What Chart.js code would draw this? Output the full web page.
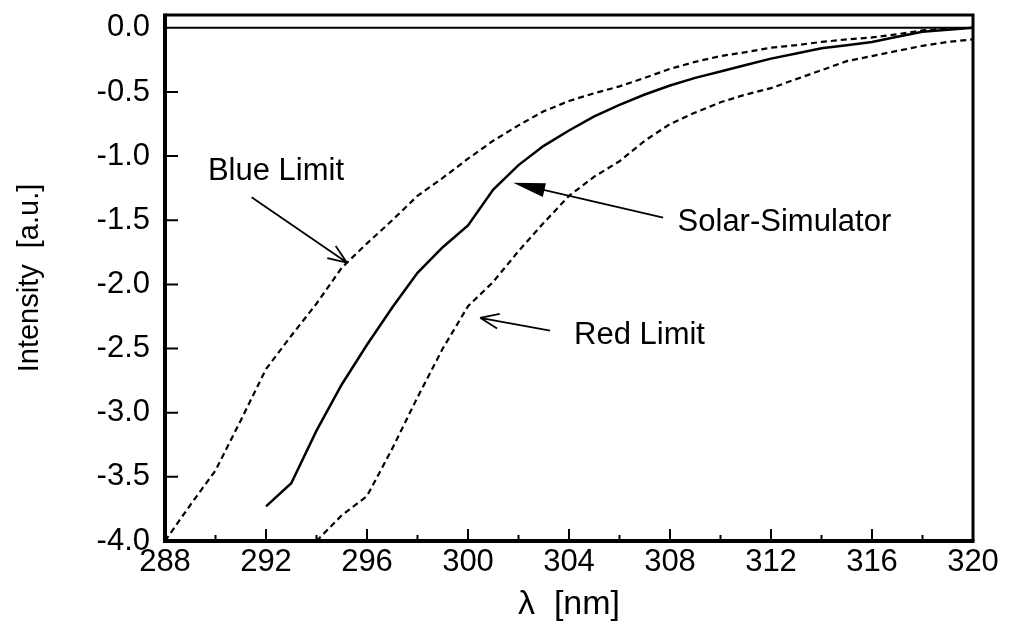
<!DOCTYPE html>
<html>
<head>
<meta charset="utf-8">
<script src="https://cdn.jsdelivr.net/npm/chart.js@4"></script>
<style>
  html, body { margin: 0; padding: 0; background: #fff; }
  #wrap { width: 1011px; height: 628px; }
</style>
</head>
<body>
<div id="wrap"><canvas id="chart" width="1011" height="628"></canvas></div>
<script>
// wavelengths (nm) and intensities
const blueWl = [288, 289, 290, 291, 292, 293, 294, 295, 296, 297, 298, 299, 300, 301, 302, 303, 304,
  305, 306, 307, 308, 309, 310, 311, 312, 313, 314, 315, 316, 317, 318, 319, 320];
const blueLimit = [-4.0, -3.72, -3.45, -3.06, -2.66, -2.40, -2.15, -1.87, -1.68, -1.50, -1.31, -1.17, -1.02,
  -0.88, -0.76, -0.65, -0.57, -0.51, -0.456, -0.39, -0.32, -0.265, -0.22, -0.19, -0.155, -0.135, -0.11,
  -0.09, -0.075, -0.05, -0.02, -0.005, 0.0];

const solarWl = [292, 293, 294, 295, 296, 297, 298, 299, 300, 301, 302, 303, 304, 305, 306, 307, 308,
  309, 310, 311, 312, 313, 314, 315, 316, 317, 318, 319, 320];
const solarSim = [-3.73, -3.55, -3.14, -2.78, -2.47, -2.18, -1.91, -1.71, -1.54, -1.26, -1.07, -0.92,
  -0.80, -0.69, -0.60, -0.52, -0.45, -0.39, -0.34, -0.29, -0.24, -0.20, -0.16, -0.135, -0.11, -0.07,
  -0.03, -0.015, 0.0];

const redWl = [294, 295, 296, 297, 298, 299, 300, 301, 302, 303, 304, 305, 306, 307, 308, 309, 310,
  311, 312, 313, 314, 315, 316, 317, 318, 319, 320];
const redLimit = [-4.0, -3.80, -3.65, -3.28, -2.88, -2.50, -2.17, -1.98, -1.74, -1.52, -1.31, -1.16,
  -1.04, -0.88, -0.75, -0.66, -0.58, -0.52, -0.47, -0.40, -0.33, -0.26, -0.22, -0.18, -0.14, -0.11, -0.09];

// axis ticks
const xTicks = [288, 290, 292, 294, 296, 298, 300, 302, 304, 306, 308, 310, 312, 314, 316, 318, 320];
const xLabels = [288, 292, 296, 300, 304, 308, 312, 316, 320];
const yTicks = [-4.0, -3.5, -3.0, -2.5, -2.0, -1.5, -1.0, -0.5, 0.0];

// text labels with arrows, in data units
const notes = [
  { text: 'Blue Limit', at: [289.7, -1.12], from: [291.43, -1.32], to: [295.2, -1.83], head: 'open' },
  { text: 'Solar-Simulator', at: [308.3, -1.52], from: [307.73, -1.48], to: [301.79, -1.208], head: 'filled' },
  { text: 'Red Limit', at: [304.2, -2.40], from: [303.25, -2.36], to: [300.48, -2.26], head: 'open' }
];

const FONT = '"Liberation Sans", Arial, Helvetica, sans-serif';

function pts(xs, ys) {
  return xs.map((x, i) => ({ x: x, y: ys[i] }));
}

const framePlugin = {
  id: 'frame',
  afterDraw(chart) {
    const ctx = chart.ctx;
    const a = chart.chartArea;
    const xs = chart.scales.x;
    const ys = chart.scales.y;
    ctx.save();
    ctx.strokeStyle = '#000';
    ctx.lineCap = 'butt';

    // zero line
    const y0 = ys.getPixelForValue(0);
    ctx.lineWidth = 2;
    ctx.beginPath();
    ctx.moveTo(a.left, y0);
    ctx.lineTo(a.right, y0);
    ctx.stroke();

    // top and right border
    ctx.lineWidth = 3;
    ctx.beginPath();
    ctx.moveTo(a.left, a.top);
    ctx.lineTo(a.right, a.top);
    ctx.lineTo(a.right, a.bottom);
    ctx.stroke();

    // left and bottom axis
    ctx.lineWidth = 4;
    ctx.beginPath();
    ctx.moveTo(a.left, a.top - 1.5);
    ctx.lineTo(a.left, a.bottom);
    ctx.lineTo(a.right + 1.5, a.bottom);
    ctx.stroke();

    // inward ticks
    ctx.lineWidth = 2;
    ctx.beginPath();
    yTicks.forEach(v => {
      if (v === 0 || v === -4) return;
      const py = ys.getPixelForValue(v);
      ctx.moveTo(a.left, py);
      ctx.lineTo(a.left + 13, py);
    });
    xTicks.forEach(v => {
      if (v === 288 || v === 320) return;
      const px = xs.getPixelForValue(v);
      const len = xLabels.includes(v) ? 12 : 6;
      ctx.moveTo(px, a.bottom);
      ctx.lineTo(px, a.bottom - len);
    });
    ctx.stroke();

    // annotations
    ctx.fillStyle = '#000';
    ctx.font = '31px ' + FONT;
    ctx.textAlign = 'left';
    ctx.textBaseline = 'middle';
    notes.forEach(n => {
      ctx.fillText(n.text, xs.getPixelForValue(n.at[0]), ys.getPixelForValue(n.at[1]));
      const x1 = xs.getPixelForValue(n.from[0]);
      const y1 = ys.getPixelForValue(n.from[1]);
      const x2 = xs.getPixelForValue(n.to[0]);
      const y2 = ys.getPixelForValue(n.to[1]);
      const ang = Math.atan2(y2 - y1, x2 - x1);
      ctx.lineWidth = 1.8;
      ctx.beginPath();
      ctx.moveTo(x1, y1);
      if (n.head === 'filled') {
        ctx.lineTo(x2 - 30 * Math.cos(ang), y2 - 30 * Math.sin(ang));
        ctx.stroke();
        const bx = x2 - 32 * Math.cos(ang);
        const by = y2 - 32 * Math.sin(ang);
        ctx.beginPath();
        ctx.moveTo(x2, y2);
        ctx.lineTo(bx + 7 * Math.sin(ang), by - 7 * Math.cos(ang));
        ctx.lineTo(bx - 7 * Math.sin(ang), by + 7 * Math.cos(ang));
        ctx.closePath();
        ctx.fill();
      } else {
        ctx.lineTo(x2, y2);
        const w = 0.38;
        ctx.moveTo(x2, y2);
        ctx.lineTo(x2 - 20 * Math.cos(ang - w), y2 - 20 * Math.sin(ang - w));
        ctx.moveTo(x2, y2);
        ctx.lineTo(x2 - 20 * Math.cos(ang + w), y2 - 20 * Math.sin(ang + w));
        ctx.stroke();
      }
    });
    ctx.restore();
  }
};

const ctx = document.getElementById('chart').getContext('2d');
const chart = new Chart(ctx, {
  type: 'line',
  data: {
    datasets: [
      {
        label: 'Blue Limit',
        data: pts(blueWl, blueLimit),
        borderColor: '#000',
        borderWidth: 2.2,
        borderDash: [6, 4],
        pointRadius: 0,
        tension: 0
      },
      {
        label: 'Solar-Simulator',
        data: pts(solarWl, solarSim),
        borderColor: '#000',
        borderWidth: 2.5,
        pointRadius: 0,
        tension: 0
      },
      {
        label: 'Red Limit',
        data: pts(redWl, redLimit),
        borderColor: '#000',
        borderWidth: 2.2,
        borderDash: [6, 4],
        pointRadius: 0,
        tension: 0
      }
    ]
  },
  options: {
    responsive: false,
    animation: false,
    devicePixelRatio: 1,
    layout: { padding: { top: 15, right: 38, left: 0, bottom: 0 } },
    plugins: {
      legend: { display: false },
      tooltip: { enabled: false }
    },
    scales: {
      x: {
        type: 'linear',
        min: 288,
        max: 320,
        afterBuildTicks: s => { s.ticks = xTicks.map(v => ({ value: v })); },
        afterFit: s => { s.height = 87; s.paddingLeft = 0; s.paddingRight = 0; },
        ticks: {
          autoSkip: false,
          maxRotation: 0,
          padding: 3,
          color: '#000',
          font: { family: FONT, size: 31 },
          callback: v => xLabels.includes(v) ? String(v) : ''
        },
        grid: { display: false, drawTicks: false },
        border: { display: false },
        title: {
          display: true,
          text: 'λ  [nm]',
          color: '#000',
          font: { family: FONT, size: 34 },
          padding: { top: 0, bottom: 3 }
        }
      },
      y: {
        type: 'linear',
        min: -4.0,
        max: 0.1,
        afterBuildTicks: s => { s.ticks = yTicks.map(v => ({ value: v })); },
        afterFit: s => { s.width = 165; s.paddingTop = 0; s.paddingBottom = 0; },
        ticks: {
          padding: 15,
          color: '#000',
          font: { family: FONT, size: 31 },
          callback: v => v.toFixed(1)
        },
        grid: { display: false, drawTicks: false },
        border: { display: false },
        title: {
          display: true,
          text: 'Intensity  [a.u.]',
          color: '#000',
          font: { family: FONT, size: 29 },
          padding: { top: 13, bottom: 0 }
        }
      }
    }
  },
  plugins: [framePlugin]
});
</script>
</body>
</html>
